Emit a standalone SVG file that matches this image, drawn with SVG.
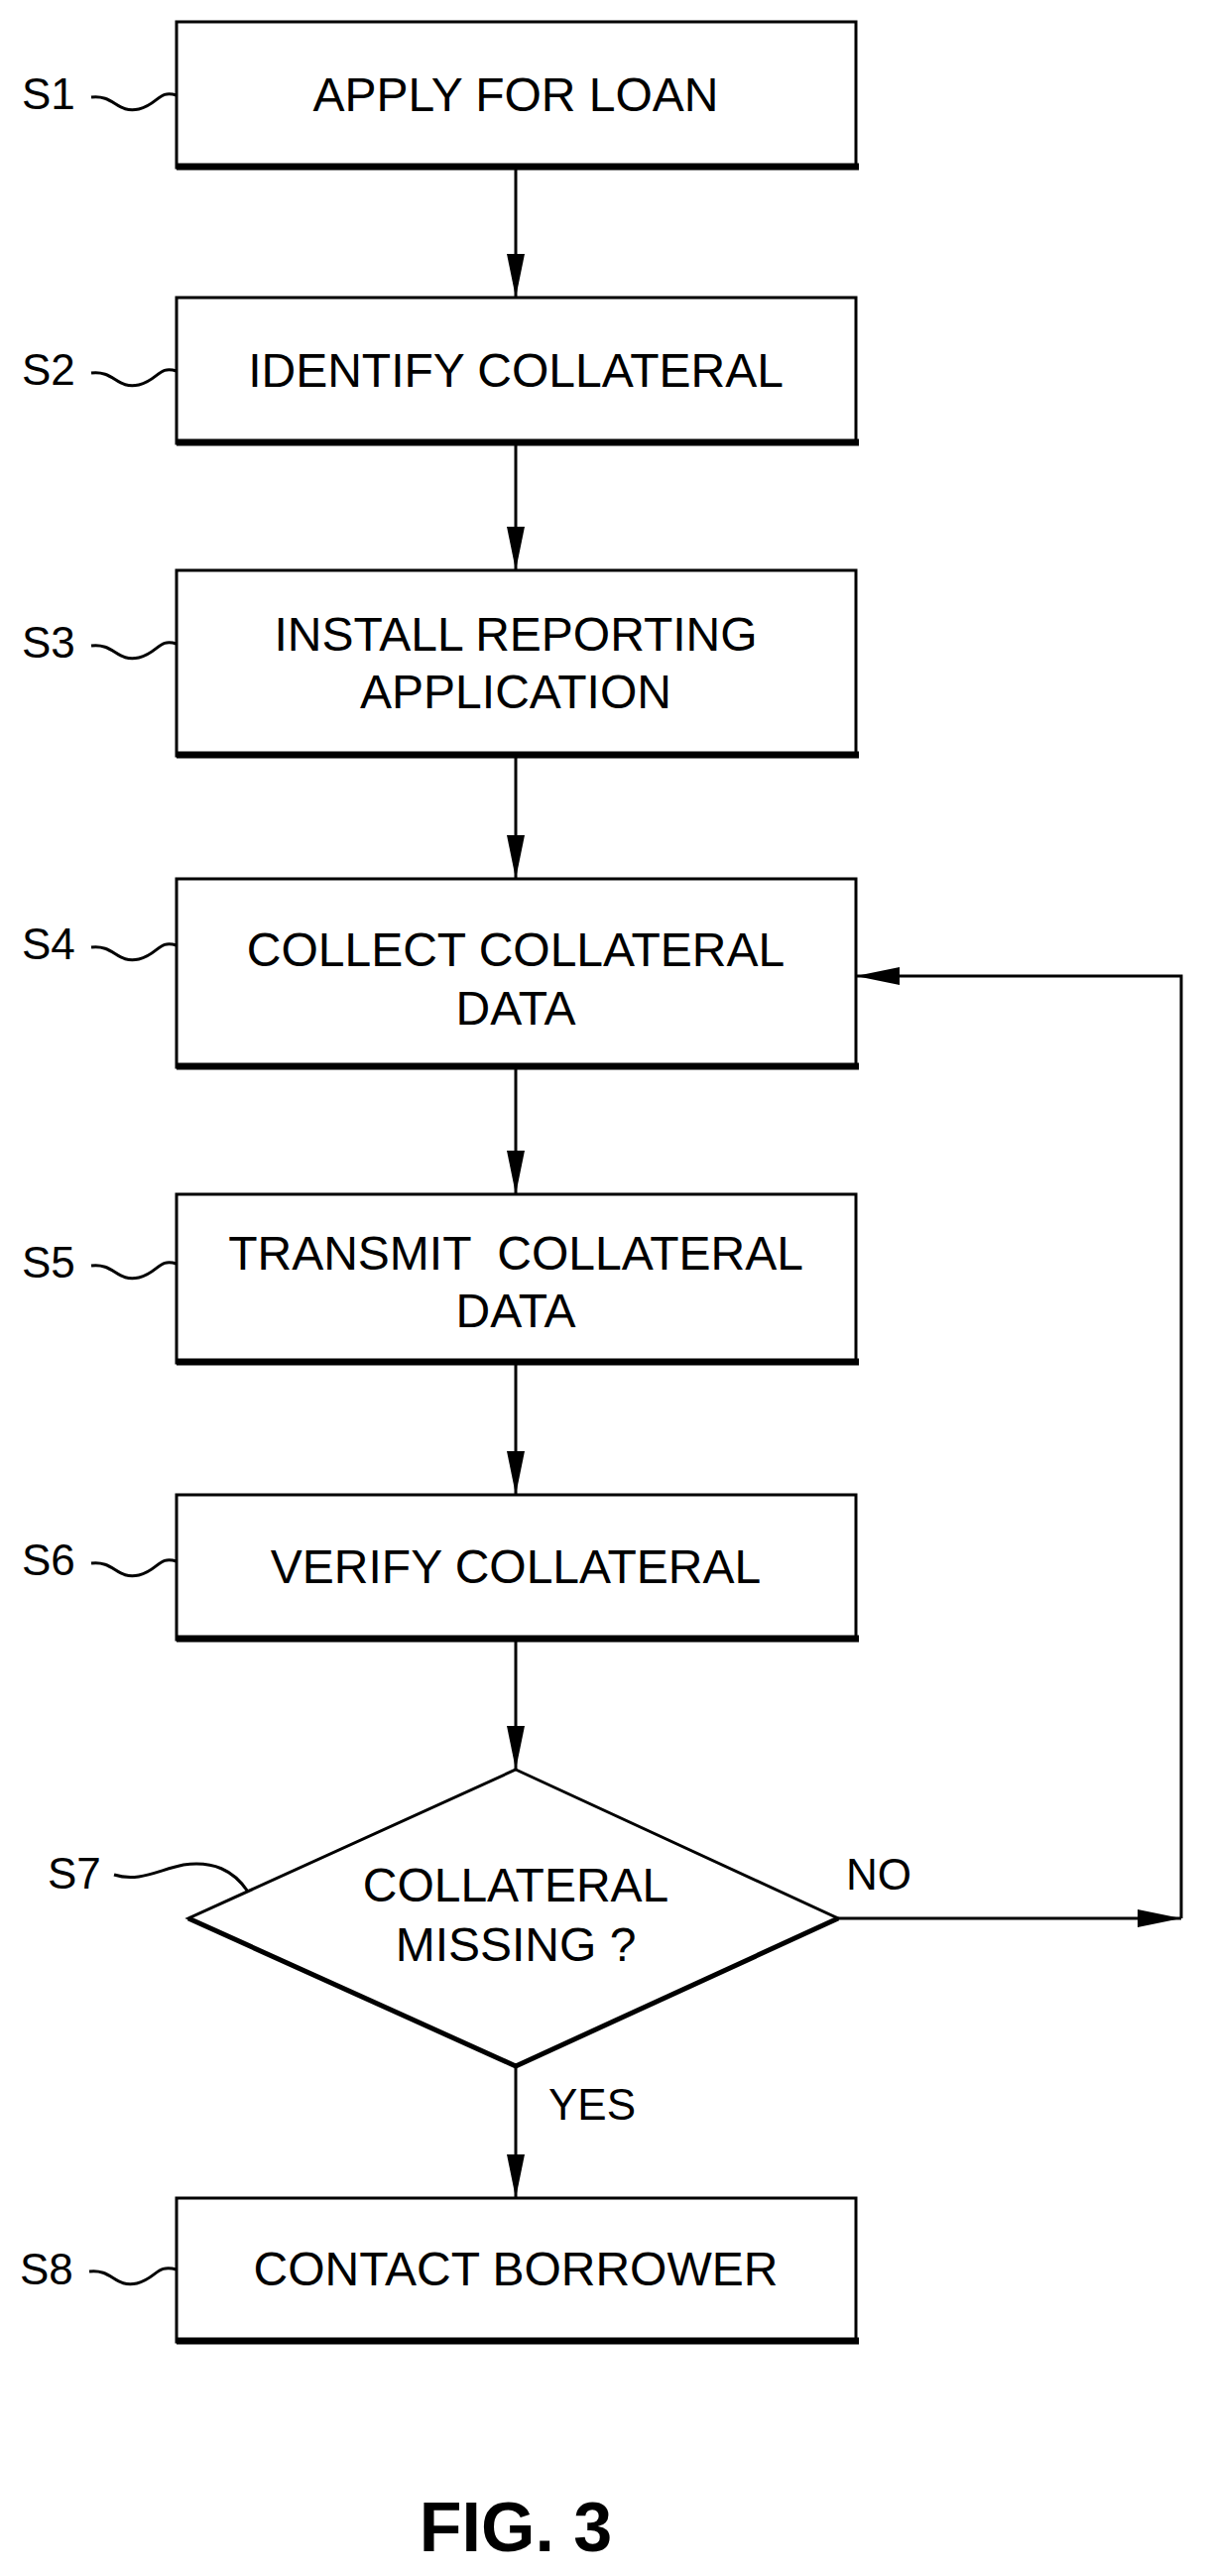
<svg xmlns="http://www.w3.org/2000/svg" width="1220" height="2597" viewBox="0 0 1220 2597">
<style>
.b{fill:#fff;stroke:#000;stroke-width:3}
.sh{fill:none;stroke:#000;stroke-width:7}
.t{font-family:"Liberation Sans",Arial,sans-serif;font-size:48px;text-anchor:middle;fill:#000}
.l{font-family:"Liberation Sans",Arial,sans-serif;font-size:44px;fill:#000}
.c{fill:none;stroke:#000;stroke-width:3}
.w{fill:none;stroke:#000;stroke-width:3}
</style>
<defs>
<marker id="h" markerWidth="44" markerHeight="18" refX="44" refY="9" orient="auto" markerUnits="userSpaceOnUse" viewBox="0 0 44 18"><path d="M0,0 L44,9 L0,18 Z" fill="#000"/></marker></defs>
<g id="connectors">
<line class="c" x1="520" y1="169" x2="520" y2="300" marker-end="url(#h)"/>
<line class="c" x1="520" y1="447" x2="520" y2="575" marker-end="url(#h)"/>
<line class="c" x1="520" y1="762" x2="520" y2="886" marker-end="url(#h)"/>
<line class="c" x1="520" y1="1076" x2="520" y2="1204" marker-end="url(#h)"/>
<line class="c" x1="520" y1="1374" x2="520" y2="1507" marker-end="url(#h)"/>
<line class="c" x1="520" y1="1653" x2="520" y2="1784" marker-end="url(#h)"/>
<line class="c" x1="520" y1="2083" x2="520" y2="2216" marker-end="url(#h)"/>
<line class="c" x1="845" y1="1934" x2="1191" y2="1934" marker-end="url(#h)"/>
<polyline class="c" points="1191,1934 1191,984 863,984" marker-end="url(#h)"/>
<text class="l" x="853" y="1905">NO</text>
<text class="l" x="553" y="2137">YES</text>
</g>
<g id="s1"><rect class="b" x="178" y="22" width="685" height="147"/><line class="sh" x1="178" y1="168" x2="866" y2="168"/><text class="t" x="520" y="112">APPLY FOR LOAN</text><text class="l" x="22" y="110">S1</text><path class="w" d="M92,98 C115,95 118,115 140,110 C160,105 160,90 178,96"/></g>
<g id="s2"><rect class="b" x="178" y="300" width="685" height="147"/><line class="sh" x1="178" y1="446" x2="866" y2="446"/><text class="t" x="520" y="390">IDENTIFY COLLATERAL</text><text class="l" x="22" y="388">S2</text><path class="w" d="M92,376 C115,373 118,393 140,388 C160,383 160,368 178,374"/></g>
<g id="s3"><rect class="b" x="178" y="575" width="685" height="187"/><line class="sh" x1="178" y1="761" x2="866" y2="761"/><text class="t" x="520" y="656">INSTALL REPORTING</text><text class="t" x="520" y="714">APPLICATION</text><text class="l" x="22" y="663">S3</text><path class="w" d="M92,651 C115,648 118,668 140,663 C160,658 160,643 178,649"/></g>
<g id="s4"><rect class="b" x="178" y="886" width="685" height="190"/><line class="sh" x1="178" y1="1075" x2="866" y2="1075"/><text class="t" x="520" y="974">COLLECT COLLATERAL</text><text class="t" x="520" y="1033">DATA</text><text class="l" x="22" y="967">S4</text><path class="w" d="M92,955 C115,952 118,972 140,967 C160,962 160,947 178,953"/></g>
<g id="s5"><rect class="b" x="178" y="1204" width="685" height="170"/><line class="sh" x1="178" y1="1373" x2="866" y2="1373"/><text class="t" x="520" y="1280" xml:space="preserve">TRANSMIT  COLLATERAL</text><text class="t" x="520" y="1338">DATA</text><text class="l" x="22" y="1288">S5</text><path class="w" d="M92,1276 C115,1273 118,1293 140,1288 C160,1283 160,1268 178,1274"/></g>
<g id="s6"><rect class="b" x="178" y="1507" width="685" height="146"/><line class="sh" x1="178" y1="1652" x2="866" y2="1652"/><text class="t" x="520" y="1596">VERIFY COLLATERAL</text><text class="l" x="22" y="1588">S6</text><path class="w" d="M92,1576 C115,1573 118,1593 140,1588 C160,1583 160,1568 178,1574"/></g>
<g id="s7"><polygon class="b" points="520,1784 845,1934 520,2083 190,1934"/><polyline class="sh" points="190,1934 520,2083 845,1934" style="stroke-width:5"/><text class="t" x="520" y="1917">COLLATERAL</text><text class="t" x="520" y="1977">MISSING ?</text><text class="l" x="48" y="1904">S7</text><path class="w" d="M115,1890 C140,1898 160,1885 185,1880 C215,1876 235,1885 250,1907"/></g>
<g id="s8"><rect class="b" x="178" y="2216" width="685" height="145"/><line class="sh" x1="178" y1="2360" x2="866" y2="2360"/><text class="t" x="520" y="2304">CONTACT BORROWER</text><text class="l" x="20" y="2303">S8</text><path class="w" d="M90,2290 C113,2287 116,2307 138,2302 C158,2297 158,2282 178,2288"/></g>
<text x="520" y="2572" style="font-family:'Liberation Sans',Arial,sans-serif;font-size:70px;font-weight:bold;text-anchor:middle">FIG. 3</text>
</svg>
